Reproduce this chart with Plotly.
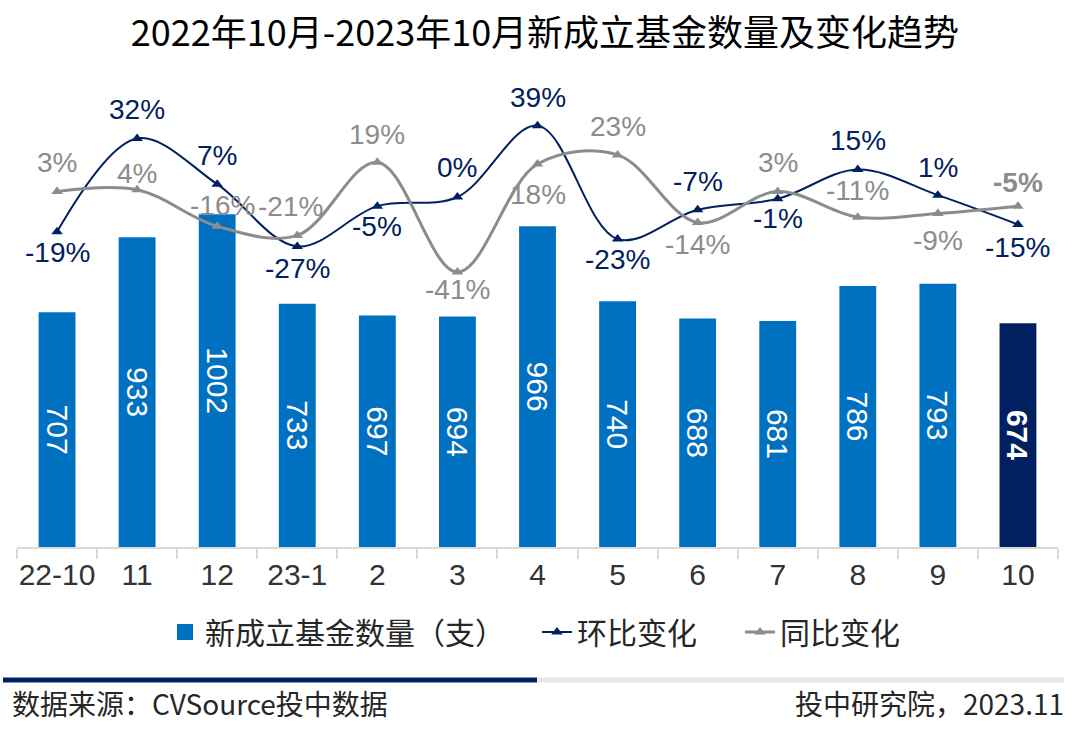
import plotly.graph_objects as go

# ---------------- data ----------------
categories = ["22-10", "11", "12", "23-1", "2", "3", "4", "5", "6", "7", "8", "9", "10"]
fund_counts = [707, 933, 1002, 733, 697, 694, 966, 740, 688, 681, 786, 793, 674]
mom_change = [-19, 32, 7, -27, -5, 0, 39, -23, -7, -1, 15, 1, -15]      # 环比变化 (%)
yoy_change = [3, 4, -16, -21, 19, -41, 18, 23, -14, 3, -11, -9, -5]     # 同比变化 (%)

# label offsets (pixels, + above / - below)
mom_shift = [-21, 29, 29, -22, -20, 30, 28, -20, 28, -20, 29, 28, -23]
yoy_shift = [29, 16, 21, 29, 28, -17, -30, 28, -22, 29, 27, -27, 24]
yoy_xshift = [0, 0, 5, -7, 0, 0, 0, 0, 0, 0, 0, 0, 0]

# ---------------- style ----------------
W, H = 1080, 750
ML, MR, MT, MB = 17, 22, 80, 203
PLOT_W = W - ML - MR
PLOT_H = H - MT - MB

BLUE = "#0070C0"
NAVY = "#002060"
GRAY_LINE = "#8C8C8C"
GRAY_TXT = "#8C8C8C"
NUM_FONT = "Liberation Sans, Arial, Noto Sans CJK SC"
CJK_FONT = "Noto Sans CJK SC, Microsoft YaHei, sans-serif"


def px_x(px):
    return (px - ML) / PLOT_W


def px_y(py):
    return (H - MB - py) / PLOT_H


bar_colors = [BLUE] * (len(fund_counts) - 1) + [NAVY]
bar_text = [str(v) for v in fund_counts[:-1]] + [f"<b>{fund_counts[-1]}</b>"]

fig = go.Figure()

fig.add_trace(go.Bar(
    x=categories, y=fund_counts, name="新成立基金数量（支）",
    marker=dict(color=bar_colors, line=dict(width=0)),
    width=0.46, showlegend=False,
    text=bar_text, textposition="inside", insidetextanchor="middle",
    textangle=90, constraintext="none",
    textfont=dict(family=NUM_FONT, size=30, color="white"),
    hoverinfo="skip",
))

# legend entry for the bars (bigger square symbol)
fig.add_trace(go.Scatter(
    x=[None], y=[None], name="新成立基金数量（支）", mode="markers", legend="legend",
    marker=dict(symbol="square", size=16, color=BLUE), hoverinfo="skip",
))

fig.add_trace(go.Scatter(
    x=categories, y=mom_change, name="环比变化", yaxis="y2", legend="legend2",
    mode="lines+markers",
    line=dict(color=NAVY, width=2, shape="spline", smoothing=1.0),
    marker=dict(symbol="triangle-up", size=10, color=NAVY),
    hoverinfo="skip",
))

fig.add_trace(go.Scatter(
    x=categories, y=yoy_change, name="同比变化", yaxis="y2", legend="legend3",
    mode="lines+markers",
    line=dict(color=GRAY_LINE, width=3, shape="spline", smoothing=1.0),
    marker=dict(symbol="triangle-up", size=10, color=GRAY_LINE),
    hoverinfo="skip",
))

annotations = []
for i, v in enumerate(mom_change):
    annotations.append(dict(
        x=i, y=v, xref="x", yref="y2", text=f"{v}%", showarrow=False,
        yshift=mom_shift[i], font=dict(family=NUM_FONT, size=28, color=NAVY),
    ))
for i, v in enumerate(yoy_change):
    t = f"{v}%"
    if i == len(yoy_change) - 1:
        t = f"<b>{t}</b>"
    annotations.append(dict(
        x=i, y=v, xref="x", yref="y2", text=t, showarrow=False,
        yshift=yoy_shift[i], xshift=yoy_xshift[i],
        font=dict(family=NUM_FONT, size=28, color=GRAY_TXT),
    ))

# footer texts
annotations.append(dict(
    x=px_x(10), y=px_y(703), xref="paper", yref="paper", xanchor="left", yanchor="middle",
    text="数据来源：CVSource投中数据", showarrow=False,
    font=dict(family=CJK_FONT, size=28, color="#262626"),
))
annotations.append(dict(
    x=px_x(1066), y=px_y(703), xref="paper", yref="paper", xanchor="right", yanchor="middle",
    text="投中研究院，2023.11", showarrow=False,
    font=dict(family=CJK_FONT, size=28, color="#262626"),
))

shapes = [
    dict(type="line", xref="paper", yref="paper", x0=px_x(3), x1=px_x(537),
         y0=px_y(680), y1=px_y(680), line=dict(color=NAVY, width=5)),
    dict(type="line", xref="paper", yref="paper", x0=px_x(537), x1=px_x(1064),
         y0=px_y(680), y1=px_y(680), line=dict(color="#E6E6E6", width=5)),
]

bar_px_per_unit = 0.332
pct_px = 1.83
zero_pct_py = 197

legend_common = dict(orientation="h", yanchor="middle", xanchor="left", y=px_y(632),
                     font=dict(family=CJK_FONT, size=30, color="#262626"),
                     itemwidth=30, bgcolor="rgba(0,0,0,0)")

fig.update_layout(
    width=W, height=H,
    margin=dict(l=ML, r=MR, t=MT, b=MB, autoexpand=False),
    paper_bgcolor="white", plot_bgcolor="white",
    title=dict(text="2022年10月-2023年10月新成立基金数量及变化趋势",
               x=px_x(545), xanchor="center", xref="paper", y=1 - 33 / H, yanchor="middle",
               font=dict(family=CJK_FONT, size=36, color="black")),
    xaxis=dict(type="category", showgrid=False, showline=True, linecolor="#D9D9D9",
               linewidth=1.5, ticks="outside", tickson="boundaries", ticklen=10,
               tickcolor="#D9D9D9", tickwidth=1.5, tickangle=0,
               tickfont=dict(family=NUM_FONT, size=30, color="#333333"),
               range=[-0.5, len(categories) - 0.5], fixedrange=True),
    yaxis=dict(range=[0, PLOT_H / bar_px_per_unit], visible=False, showgrid=False),
    yaxis2=dict(overlaying="y", side="right", visible=False, showgrid=False,
                range=[-(H - MB - zero_pct_py) / pct_px, (zero_pct_py - MT) / pct_px]),
    showlegend=True,
    legend=dict(x=px_x(165), **legend_common),
    legend2=dict(x=px_x(537), **legend_common),
    legend3=dict(x=px_x(740), **legend_common),
    bargap=0.54,
    annotations=annotations,
    shapes=shapes,
)

fig.write_html("out.html", config={"displayModeBar": False},
               post_script="document.body.style.margin='0px';")
